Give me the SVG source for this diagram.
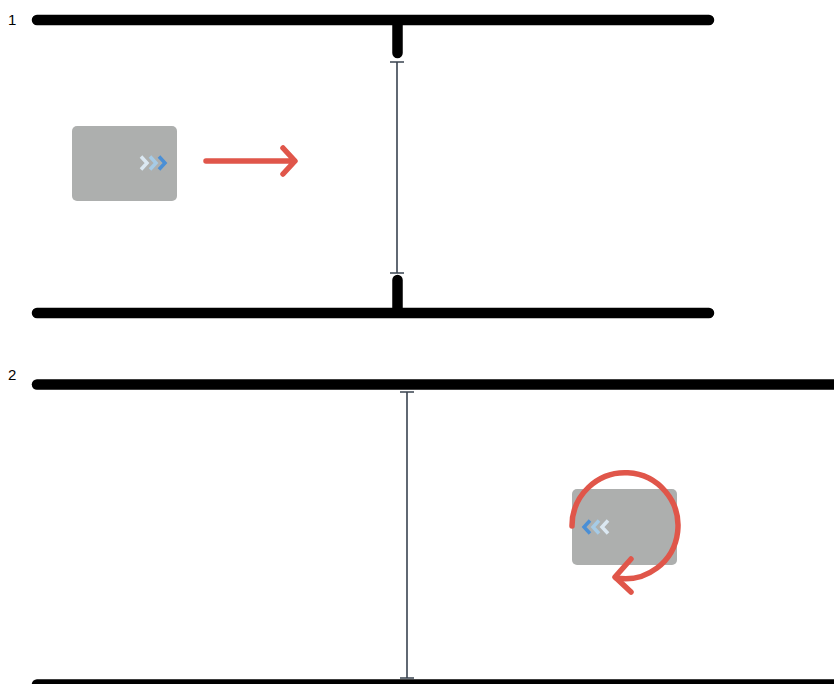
<svg xmlns="http://www.w3.org/2000/svg" width="834" height="684" viewBox="0 0 834 684">
<style>
.rail{stroke:#000;stroke-width:10.5;stroke-linecap:round;fill:none}
.dim{stroke:#3a4450;stroke-width:1.6;fill:none}
.box{fill:#adafae}
.red{stroke:#e0564a;stroke-width:5.5;stroke-linecap:round;stroke-linejoin:round;fill:none}
.ch{stroke-width:3.5;fill:none;stroke-linecap:butt;stroke-linejoin:miter}
.c1{stroke:#dbe8f2}.c2{stroke:#a6cbe6}.c3{stroke:#4a8fd6}
.lbl{font-family:"Liberation Sans",Arial,sans-serif;font-size:15px;fill:#000}
</style>
<rect width="834" height="684" fill="#fff"/>
<g id="section1">
  <text class="lbl" x="8" y="25">1</text>
  <g id="rail1-top"><path class="rail" d="M37,20 H709 M397.5,20 V53"/></g>
  <g id="rail1-bottom"><path class="rail" d="M37,313 H709 M397.5,313 V280"/></g>
  <g id="box1">
    <rect class="box" x="72" y="126" width="105" height="75" rx="5"/>
    <path class="ch c1" d="M141,156.5 L147,163 L141,169.5"/>
    <path class="ch c2" d="M150,156.5 L156,163 L150,169.5"/>
    <path class="ch c3" d="M159,156.5 L165,163 L159,169.5"/>
  </g>
</g>
<g id="section2">
  <text class="lbl" x="8" y="380">2</text>
  <g id="rail2-top"><path class="rail" d="M37,384.5 H840"/></g>
  <g id="rail2-bottom"><path class="rail" d="M37,684.5 H840"/></g>
  <g id="box2">
    <rect class="box" x="572" y="489" width="105" height="76" rx="5"/>
    <path class="ch c3" d="M590,520.5 L584,527 L590,533.5"/>
    <path class="ch c2" d="M599,520.5 L593,527 L599,533.5"/>
    <path class="ch c1" d="M608,520.5 L602,527 L608,533.5"/>
  </g>
</g>
<g id="connectors">
  <path class="dim" d="M397,62 V273 M390,62 H404 M390,273 H404"/>
  <path class="dim" d="M407,392 V678 M400,392 H414 M400,678 H414"/>
  <path class="red" d="M206,161 H294 M283,148 L295,161 L283,174"/>
  <path class="red" d="M572,526 A53,53 0 1 1 616,578"/>
  <path class="red" d="M631,559 L615,577 L631,592"/>
</g>
</svg>
